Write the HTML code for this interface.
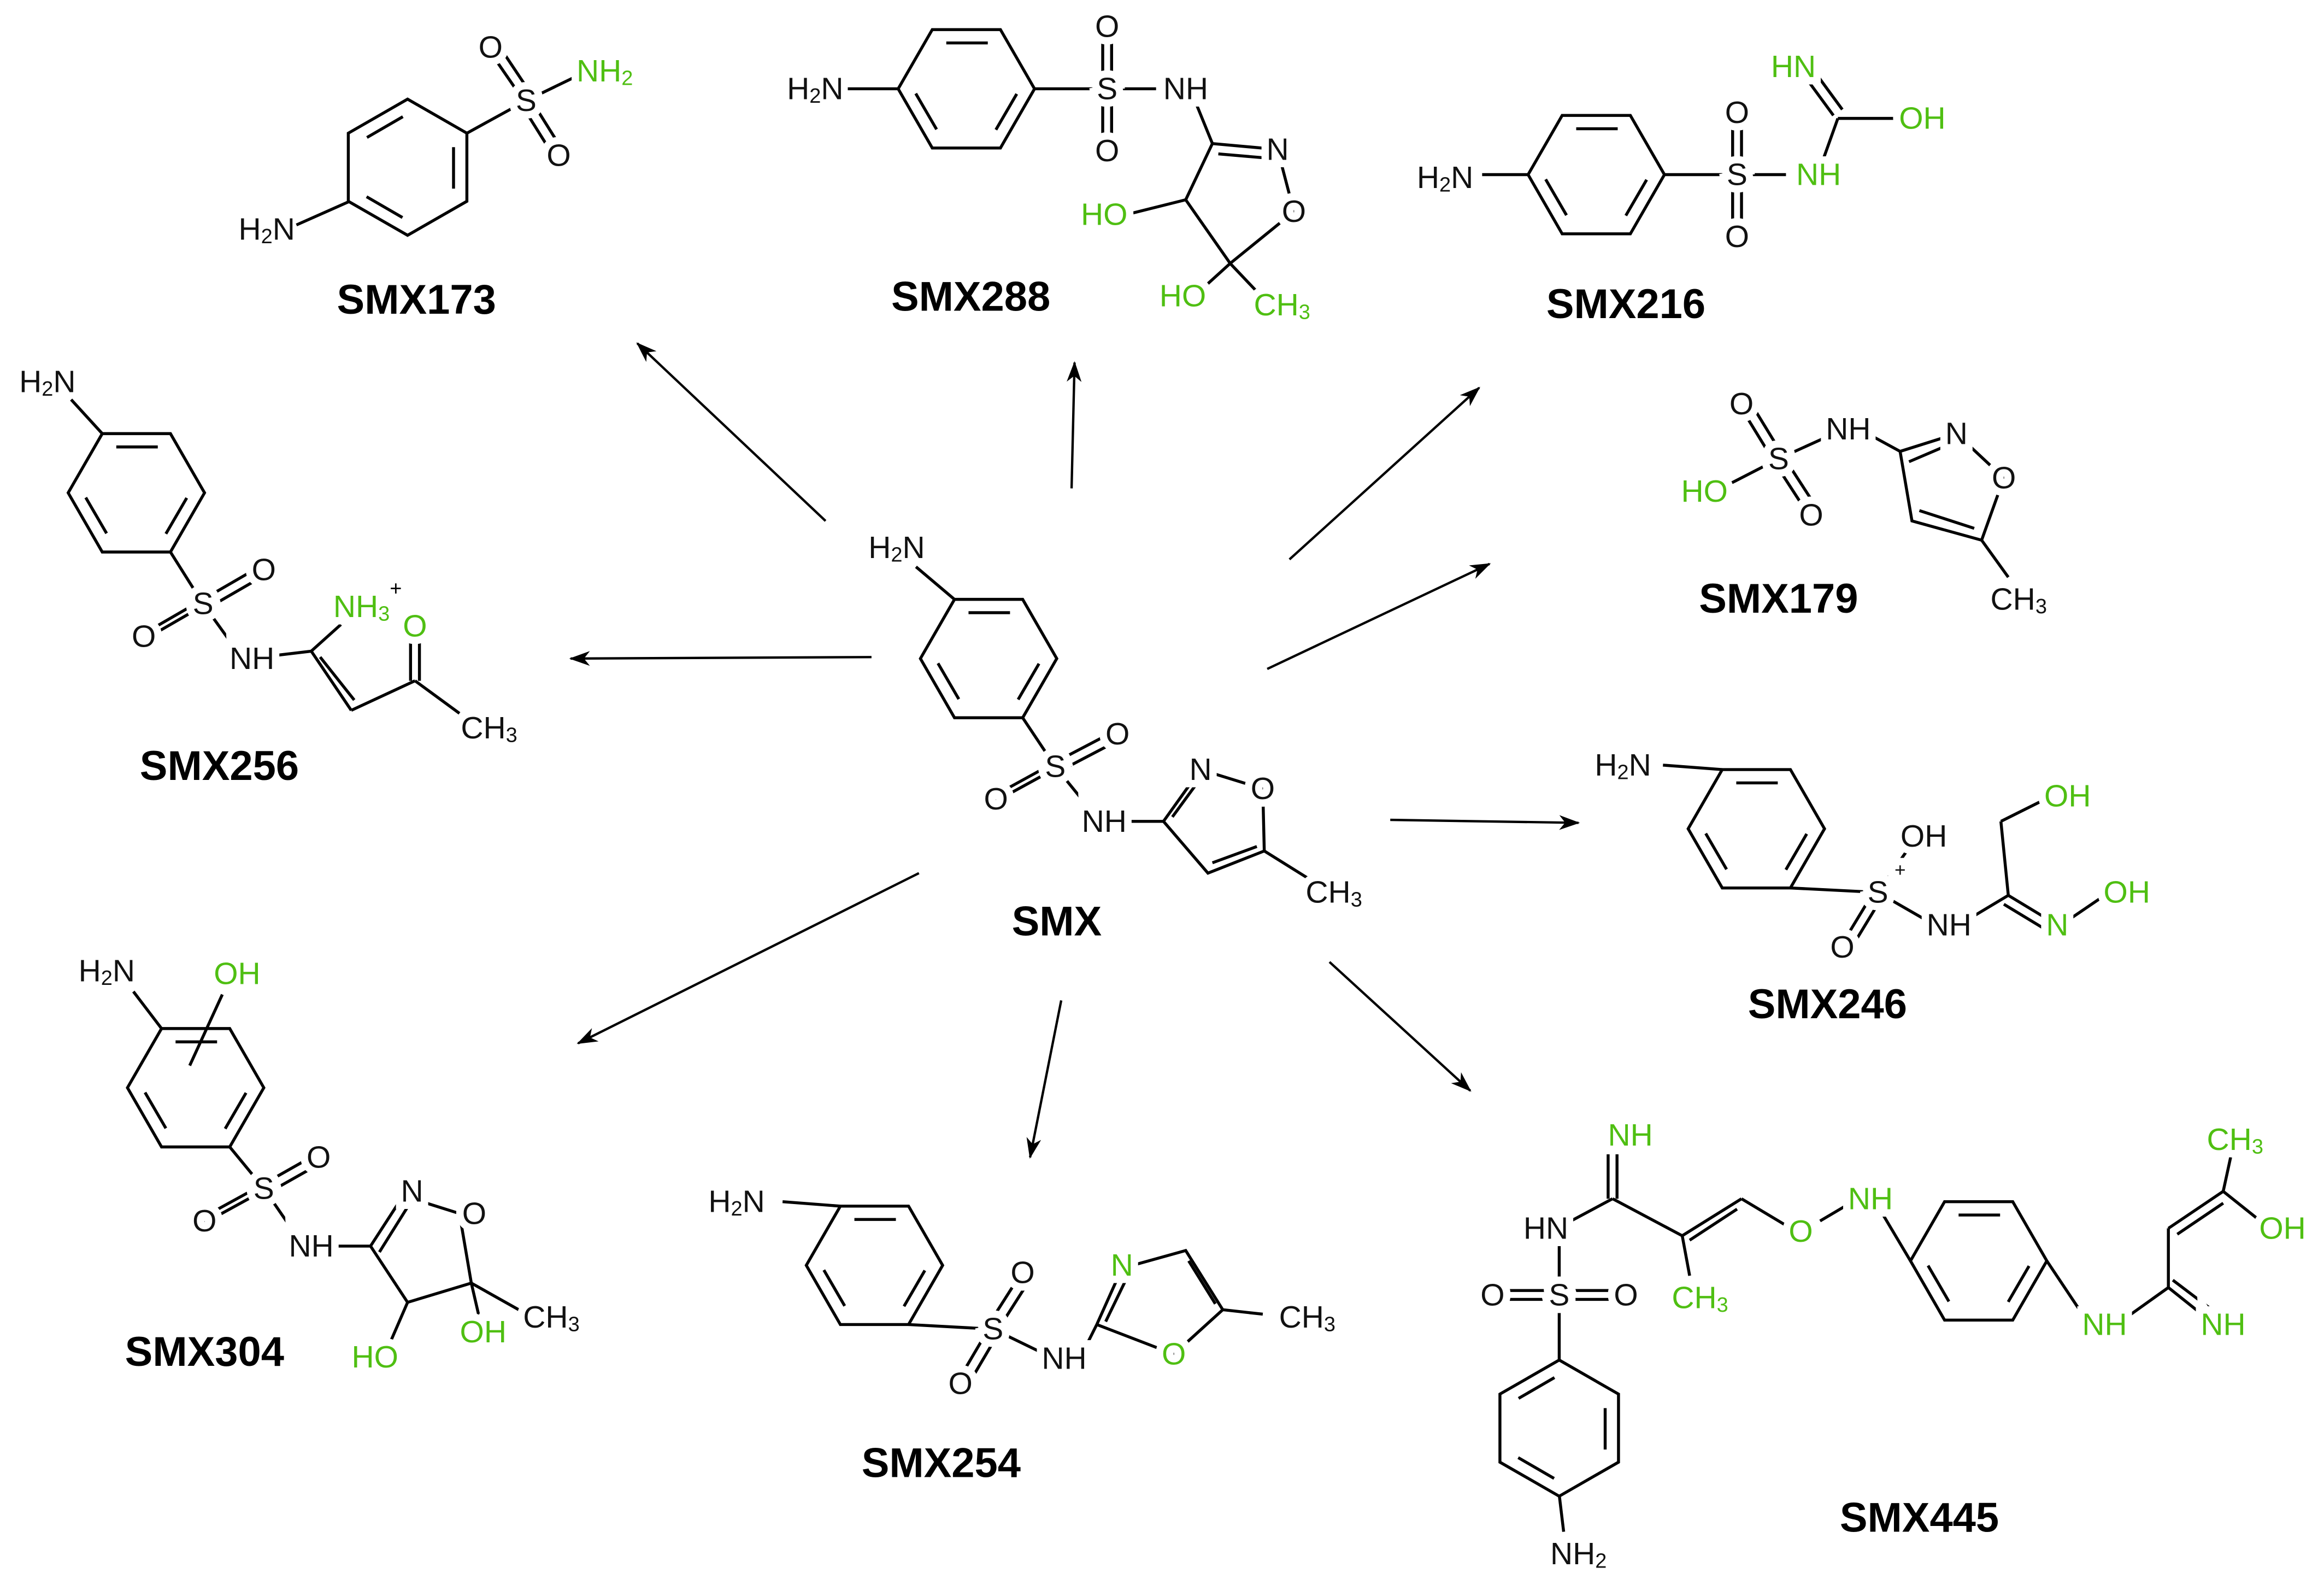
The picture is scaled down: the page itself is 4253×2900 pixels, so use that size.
<!DOCTYPE html>
<html><head><meta charset="utf-8"><style>
html,body{margin:0;padding:0;background:#fff}
svg{display:block}
text{font-family:"Liberation Sans",Arial,sans-serif}
.a{font-size:21px;text-anchor:middle;dominant-baseline:central;fill:#111;stroke:#fff;stroke-width:10px;paint-order:stroke}
.a tspan{stroke:none}
.g{fill:#4fbf12}
.L{font-size:28px;font-weight:bold;text-anchor:middle;fill:#000}
.s{font-size:14px}
</style></head><body>
<svg width="4253" height="2900" viewBox="0 0 1568 1071" preserveAspectRatio="none">
<defs>
<marker id="ar" markerWidth="14" markerHeight="10" refX="13" refY="5" orient="auto" markerUnits="userSpaceOnUse"><path d="M0,0 L14,5 L0,10 L4,5 z" fill="#000"/></marker>
<g id="hf"><polygon points="46,0 23,40 -23,40 -46,0 -23,-40 23,-40" fill="none" stroke="#000" stroke-width="2"/><polygon points="36,0 18,31 -18,31 -36,0 -18,-31 18,-31" fill="none" stroke="#000" stroke-width="2" stroke-dasharray="28 44" stroke-dashoffset="-4"/></g>
<g id="hp"><use href="#hf" transform="rotate(90)"/></g>
</defs>
<g stroke="#000" stroke-width="1.6" marker-end="url(#ar)">
<line x1="557" y1="352" x2="430" y2="232"/>
<line x1="723" y1="330" x2="725" y2="245"/>
<line x1="870" y1="378" x2="998" y2="262"/>
<line x1="855" y1="452" x2="1005" y2="381"/>
<line x1="588" y1="444" x2="385" y2="445"/>
<line x1="938" y1="554" x2="1065" y2="556"/>
<line x1="620" y1="590" x2="390" y2="705"/>
<line x1="716" y1="676" x2="695" y2="782"/>
<line x1="897" y1="650" x2="992" y2="737"/>
</g>
<g stroke="#000" stroke-width="2" fill="none">
<use href="#hf" x="667" y="445"/>
<line x1="644" y1="405" x2="618" y2="383"/>
<line x1="690" y1="485" x2="712" y2="518"/>
<line x1="712" y1="515" x2="752" y2="494"/><line x1="715" y1="521" x2="755" y2="500"/>
<line x1="712" y1="515" x2="672" y2="537"/><line x1="709" y1="521" x2="669" y2="543"/>
<line x1="712" y1="518" x2="742" y2="555"/>
<polyline points="745,555 785,555 810,520 852,533 853,575 815,590 785,555"/>
<line x1="791" y1="552" x2="810" y2="526"/><line x1="818" y1="583" x2="848" y2="572"/>
<line x1="853" y1="575" x2="885" y2="595"/>
<use href="#hp" x="275" y="113"/>
<line x1="236" y1="136" x2="200" y2="152"/>
<line x1="315" y1="90" x2="355" y2="68"/>
<line x1="352" y1="66" x2="330" y2="34"/><line x1="358" y1="63" x2="336" y2="30"/>
<line x1="352" y1="71" x2="372" y2="103"/><line x1="358" y1="67" x2="378" y2="99"/>
<line x1="355" y1="68" x2="388" y2="52"/>
<use href="#hf" x="652" y="60"/>
<line x1="606" y1="60" x2="572" y2="60"/><line x1="698" y1="60" x2="780" y2="60"/>
<line x1="744" y1="60" x2="744" y2="18"/><line x1="750" y1="60" x2="750" y2="18"/>
<line x1="744" y1="60" x2="744" y2="102"/><line x1="750" y1="60" x2="750" y2="102"/>
<line x1="805" y1="65" x2="818" y2="97"/>
<polyline points="818,97 862,101 873,143 830,178 800,135 818,97"/>
<line x1="822" y1="104" x2="857" y2="107"/>
<line x1="800" y1="135" x2="760" y2="145"/><line x1="830" y1="178" x2="808" y2="198"/><line x1="830" y1="178" x2="848" y2="197"/>
<use href="#hf" x="1077" y="118"/>
<line x1="1031" y1="118" x2="1000" y2="118"/><line x1="1123" y1="118" x2="1205" y2="118"/>
<line x1="1169" y1="118" x2="1169" y2="76"/><line x1="1175" y1="118" x2="1175" y2="76"/>
<line x1="1169" y1="118" x2="1169" y2="160"/><line x1="1175" y1="118" x2="1175" y2="160"/>
<line x1="1230" y1="108" x2="1240" y2="80"/><line x1="1240" y1="80" x2="1280" y2="80"/>
<line x1="1237" y1="78" x2="1218" y2="52"/><line x1="1243" y1="74" x2="1224" y2="48"/>
<line x1="1197" y1="312" x2="1175" y2="276"/><line x1="1203" y1="308" x2="1181" y2="272"/>
<line x1="1197" y1="312" x2="1219" y2="346"/><line x1="1203" y1="308" x2="1225" y2="342"/>
<line x1="1200" y1="310" x2="1165" y2="328"/><line x1="1200" y1="310" x2="1233" y2="295"/>
<line x1="1260" y1="293" x2="1282" y2="305"/>
<polyline points="1282,305 1320,293 1352,323 1337,365 1290,352 1282,305"/>
<line x1="1288" y1="312" x2="1316" y2="300"/><line x1="1295" y1="345" x2="1332" y2="357"/>
<line x1="1337" y1="365" x2="1355" y2="390"/>
<use href="#hf" x="92" y="333"/>
<line x1="69" y1="293" x2="48" y2="270"/><line x1="115" y1="373" x2="137" y2="408"/>
<line x1="137" y1="405" x2="175" y2="383"/><line x1="140" y1="411" x2="178" y2="389"/>
<line x1="137" y1="405" x2="99" y2="427"/><line x1="134" y1="411" x2="96" y2="433"/>
<line x1="137" y1="408" x2="160" y2="440"/><line x1="185" y1="443" x2="210" y2="440"/>
<line x1="210" y1="440" x2="230" y2="422"/><line x1="210" y1="440" x2="237" y2="480"/><line x1="216" y1="444" x2="239" y2="473"/>
<line x1="237" y1="480" x2="280" y2="460"/><line x1="277" y1="460" x2="277" y2="428"/><line x1="283" y1="460" x2="283" y2="428"/>
<line x1="280" y1="460" x2="310" y2="482"/>
<use href="#hf" x="132" y="735"/>
<line x1="109" y1="695" x2="90" y2="670"/><line x1="150" y1="672" x2="128" y2="720"/>
<line x1="155" y1="775" x2="178" y2="803"/>
<line x1="178" y1="800" x2="215" y2="779"/><line x1="181" y1="806" x2="218" y2="785"/>
<line x1="178" y1="800" x2="138" y2="822"/><line x1="175" y1="806" x2="135" y2="828"/>
<line x1="178" y1="803" x2="200" y2="835"/><line x1="225" y1="842" x2="250" y2="842"/>
<polyline points="250,842 272,808 310,820 318,867 275,880 250,842"/>
<line x1="256" y1="846" x2="276" y2="814"/>
<line x1="275" y1="880" x2="262" y2="910"/><line x1="318" y1="867" x2="324" y2="893"/><line x1="318" y1="867" x2="350" y2="885"/>
<use href="#hf" x="590" y="855"/>
<line x1="567" y1="815" x2="528" y2="812"/><line x1="613" y1="895" x2="668" y2="898"/>
<line x1="667" y1="895" x2="688" y2="862"/><line x1="673" y1="899" x2="694" y2="866"/>
<line x1="667" y1="898" x2="647" y2="932"/><line x1="673" y1="902" x2="653" y2="936"/>
<line x1="670" y1="898" x2="705" y2="915"/><line x1="730" y1="915" x2="740" y2="895"/>
<polyline points="740,895 757,857 800,845 825,885 792,915 740,895"/>
<line x1="746" y1="893" x2="761" y2="862"/><line x1="802" y1="852" x2="820" y2="881"/>
<line x1="825" y1="885" x2="852" y2="888"/>
<use href="#hf" x="1185" y="560"/>
<line x1="1162" y1="520" x2="1122" y2="517"/><line x1="1208" y1="600" x2="1267" y2="603"/>
<line x1="1264" y1="603" x2="1244" y2="636"/><line x1="1270" y1="606" x2="1250" y2="639"/>
<line x1="1267" y1="603" x2="1290" y2="570"/><line x1="1267" y1="603" x2="1300" y2="622"/>
<line x1="1330" y1="620" x2="1355" y2="605"/><line x1="1355" y1="605" x2="1350" y2="555"/><line x1="1350" y1="555" x2="1380" y2="540"/>
<line x1="1355" y1="605" x2="1383" y2="622"/><line x1="1352" y1="611" x2="1380" y2="628"/><line x1="1398" y1="620" x2="1420" y2="605"/>
<use href="#hf" x="1335" y="852"/>
<use href="#hp" x="1052" y="965"/>
<line x1="1289" y1="852" x2="1270" y2="820"/><line x1="1381" y1="852" x2="1405" y2="888"/>
<line x1="1435" y1="890" x2="1463" y2="870"/><line x1="1463" y1="870" x2="1488" y2="890"/><line x1="1466" y1="865" x2="1491" y2="884"/>
<line x1="1463" y1="870" x2="1463" y2="830"/><line x1="1463" y1="830" x2="1500" y2="805"/><line x1="1469" y1="834" x2="1500" y2="813"/>
<line x1="1500" y1="805" x2="1505" y2="782"/><line x1="1500" y1="805" x2="1525" y2="825"/>
<line x1="1250" y1="812" x2="1228" y2="825"/><line x1="1205" y1="828" x2="1175" y2="810"/>
<line x1="1175" y1="810" x2="1135" y2="835"/><line x1="1172" y1="817" x2="1140" y2="838"/>
<line x1="1135" y1="835" x2="1140" y2="862"/><line x1="1135" y1="835" x2="1088" y2="810"/>
<line x1="1085" y1="810" x2="1085" y2="780"/><line x1="1091" y1="810" x2="1091" y2="780"/>
<line x1="1088" y1="810" x2="1060" y2="825"/><line x1="1052" y1="842" x2="1052" y2="920"/>
<line x1="1005" y1="872" x2="1099" y2="872"/><line x1="1005" y1="878" x2="1099" y2="878"/>
<line x1="1052" y1="1010" x2="1055" y2="1035"/>
</g>
<g>
<text class="a" x="605" y="370">H<tspan class="s" dy="5">2</tspan><tspan dy="-5">N</tspan></text>
<text class="a" x="712" y="518">S</text><text class="a" x="754" y="496">O</text><text class="a" x="672" y="540">O</text>
<text class="a" x="745" y="555">NH</text><text class="a" x="810" y="520">N</text><text class="a" x="852" y="533">O</text>
<text class="a" x="900" y="603">CH<tspan class="s" dy="5">3</tspan></text>
<text class="L" x="713" y="632">SMX</text>
<text class="a" x="180" y="155">H<tspan class="s" dy="5">2</tspan><tspan dy="-5">N</tspan></text>
<text class="a" x="355" y="68">S</text><text class="a" x="331" y="32">O</text><text class="a" x="377" y="105">O</text>
<text class="a g" x="408" y="48">NH<tspan class="s" dy="5">2</tspan></text>
<text class="L" x="281" y="212">SMX173</text>
<text class="a" x="550" y="60">H<tspan class="s" dy="5">2</tspan><tspan dy="-5">N</tspan></text>
<text class="a" x="747" y="60">S</text><text class="a" x="747" y="18">O</text><text class="a" x="747" y="102">O</text>
<text class="a" x="800" y="60">NH</text><text class="a" x="862" y="101">N</text><text class="a" x="873" y="143">O</text>
<text class="a g" x="745" y="145">HO</text><text class="a g" x="798" y="200">HO</text><text class="a g" x="865" y="206">CH<tspan class="s" dy="5">3</tspan></text>
<text class="L" x="655" y="210">SMX288</text>
<text class="a" x="975" y="120">H<tspan class="s" dy="5">2</tspan><tspan dy="-5">N</tspan></text>
<text class="a" x="1172" y="118">S</text><text class="a" x="1172" y="76">O</text><text class="a" x="1172" y="160">O</text>
<text class="a g" x="1227" y="118">NH</text><text class="a g" x="1210" y="45">HN</text><text class="a g" x="1297" y="80">OH</text>
<text class="L" x="1097" y="215">SMX216</text>
<text class="a" x="1200" y="310">S</text><text class="a" x="1175" y="273">O</text><text class="a" x="1222" y="348">O</text>
<text class="a g" x="1150" y="332">HO</text><text class="a" x="1247" y="290">NH</text><text class="a" x="1320" y="293">N</text><text class="a" x="1352" y="323">O</text>
<text class="a" x="1362" y="405">CH<tspan class="s" dy="5">3</tspan></text>
<text class="L" x="1200" y="414">SMX179</text>
<text class="a" x="32" y="258">H<tspan class="s" dy="5">2</tspan><tspan dy="-5">N</tspan></text>
<text class="a" x="137" y="408">S</text><text class="a" x="178" y="385">O</text><text class="a" x="97" y="430">O</text>
<text class="a" x="170" y="445">NH</text>
<text class="a g" x="248" y="410">NH<tspan class="s" dy="5">3</tspan><tspan class="s" dy="-17" style="fill:#000">+</tspan></text>
<text class="a g" x="280" y="423">O</text><text class="a" x="330" y="492">CH<tspan class="s" dy="5">3</tspan></text>
<text class="L" x="148" y="527">SMX256</text>
<text class="a" x="72" y="656">H<tspan class="s" dy="5">2</tspan><tspan dy="-5">N</tspan></text>
<text class="a g" x="160" y="658">OH</text>
<text class="a" x="178" y="803">S</text><text class="a" x="215" y="782">O</text><text class="a" x="138" y="825">O</text>
<text class="a" x="210" y="842">NH</text><text class="a" x="278" y="805">N</text><text class="a" x="320" y="820">O</text>
<text class="a g" x="253" y="917">HO</text><text class="a g" x="326" y="900">OH</text><text class="a" x="372" y="890">CH<tspan class="s" dy="5">3</tspan></text>
<text class="L" x="138" y="923">SMX304</text>
<text class="a" x="497" y="812">H<tspan class="s" dy="5">2</tspan><tspan dy="-5">N</tspan></text>
<text class="a" x="670" y="898">S</text><text class="a" x="690" y="860">O</text><text class="a" x="648" y="935">O</text>
<text class="a" x="718" y="918">NH</text><text class="a g" x="757" y="855">N</text><text class="a g" x="792" y="915">O</text>
<text class="a" x="882" y="890">CH<tspan class="s" dy="5">3</tspan></text>
<text class="L" x="635" y="998">SMX254</text>
<text class="a" x="1095" y="517">H<tspan class="s" dy="5">2</tspan><tspan dy="-5">N</tspan></text>
<text class="a" x="1267" y="603">S</text><text class="a" x="1282" y="588" style="font-size:13px">+</text>
<text class="a" x="1243" y="640">O</text><text class="a" x="1298" y="565">OH</text>
<text class="a" x="1315" y="625">NH</text><text class="a g" x="1388" y="625">N</text><text class="a g" x="1435" y="603">OH</text><text class="a g" x="1395" y="538">OH</text>
<text class="L" x="1233" y="688">SMX246</text>
<text class="a" x="1043" y="830">HN</text><text class="a g" x="1100" y="767">NH</text>
<text class="a g" x="1147" y="877">CH<tspan class="s" dy="5">3</tspan></text>
<text class="a g" x="1215" y="832">O</text><text class="a g" x="1262" y="810">NH</text>
<text class="a g" x="1420" y="895">NH</text><text class="a g" x="1500" y="895">NH</text>
<text class="a g" x="1508" y="770">CH<tspan class="s" dy="5">3</tspan></text><text class="a g" x="1540" y="830">OH</text>
<text class="a" x="1052" y="875">S</text><text class="a" x="1007" y="875">O</text><text class="a" x="1097" y="875">O</text>
<text class="a" x="1065" y="1050">NH<tspan class="s" dy="5">2</tspan></text>
<text class="L" x="1295" y="1035">SMX445</text>
</g>
</svg>
</body></html>
